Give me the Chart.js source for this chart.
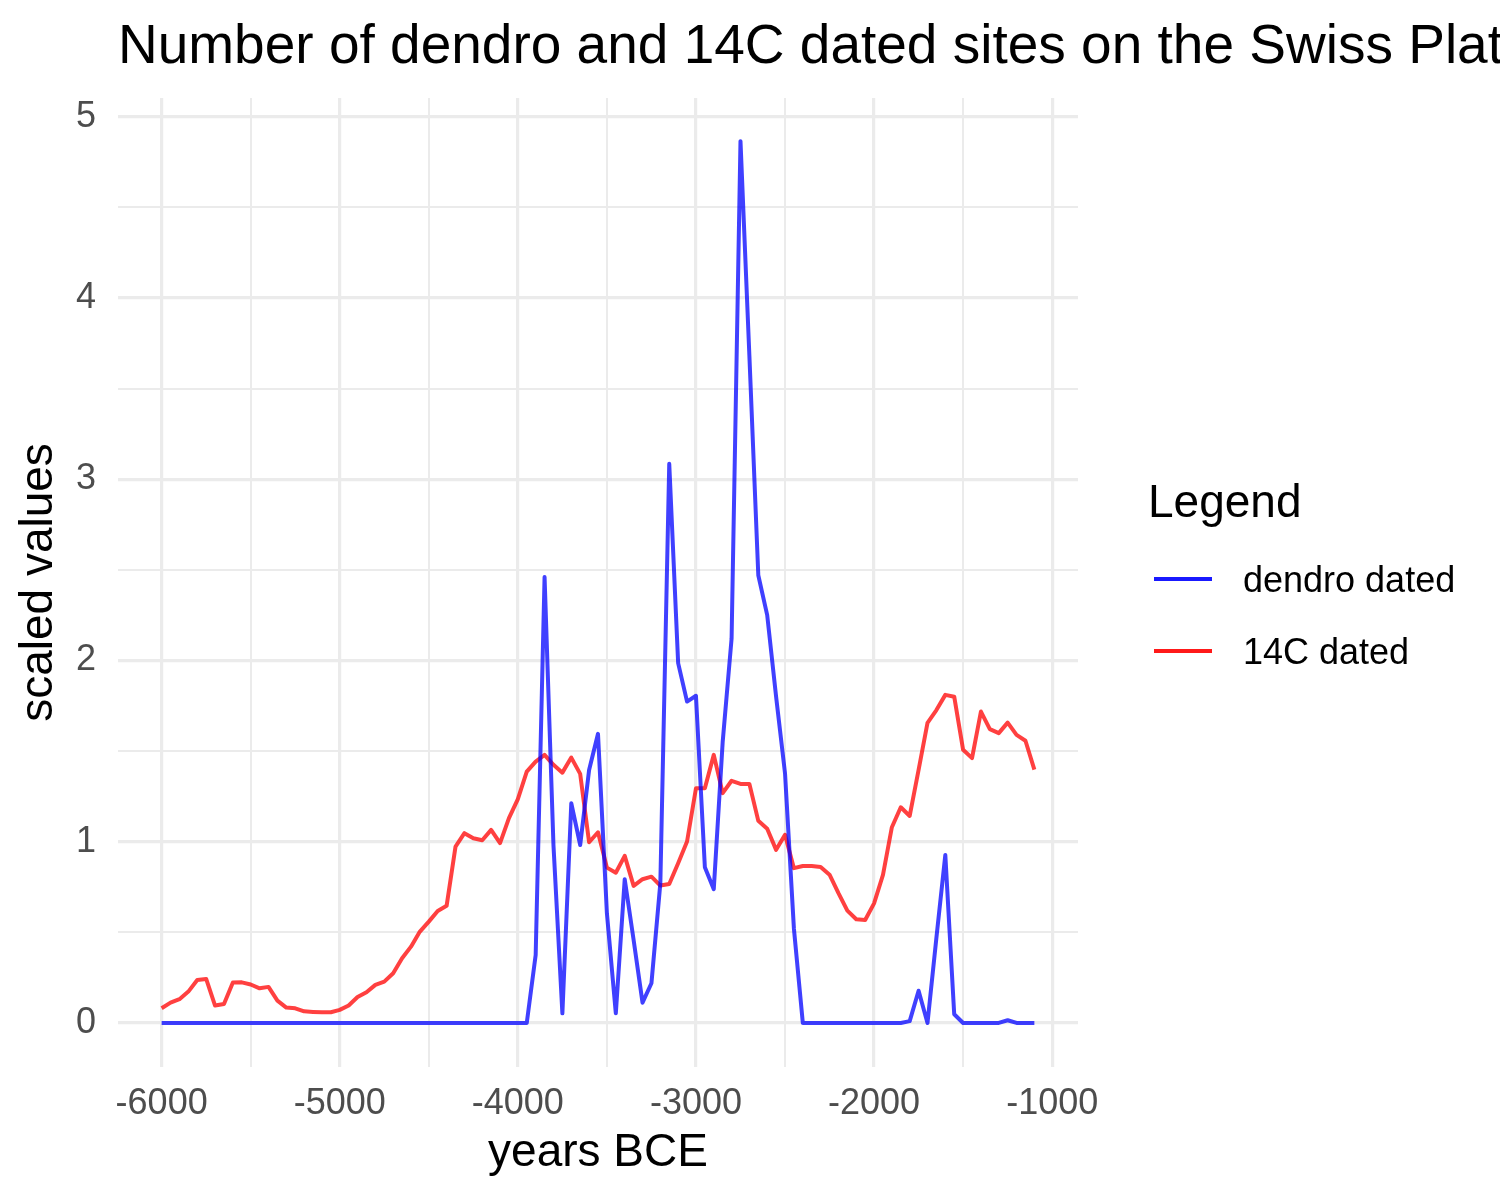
<!DOCTYPE html>
<html><head><meta charset="utf-8">
<script src="https://cdn.jsdelivr.net/npm/chart.js@4.4.1/dist/chart.umd.min.js"></script>
<style>html,body{margin:0;padding:0;background:#fff}canvas{display:block}</style>
</head><body>
<canvas id="c" width="1500" height="1200"></canvas>
<script>
const years = [-6000,-5950,-5900,-5850,-5800,-5750,-5700,-5650,-5600,-5550,
  -5500,-5450,-5400,-5350,-5300,-5250,-5200,-5150,-5100,-5050,
  -5000,-4950,-4900,-4850,-4800,-4750,-4700,-4650,-4600,-4550,
  -4500,-4450,-4400,-4350,-4300,-4250,-4200,-4150,-4100,-4050,
  -4000,-3950,-3900,-3850,-3800,-3750,-3700,-3650,-3600,-3550,
  -3500,-3450,-3400,-3350,-3300,-3250,-3200,-3150,-3100,-3050,
  -3000,-2950,-2900,-2850,-2800,-2750,-2700,-2650,-2600,-2550,
  -2500,-2450,-2400,-2350,-2300,-2250,-2200,-2150,-2100,-2050,
  -2000,-1950,-1900,-1850,-1800,-1750,-1700,-1650,-1600,-1550,
  -1500,-1450,-1400,-1350,-1300,-1250,-1200,-1150,-1100];

const dendroDated = [0,0,0,0,0,0,0,0,0,0,
  0,0,0,0,0,0,0,0,0,0,
  0,0,0,0,0,0,0,0,0,0,
  0,0,0,0,0,0,0,0,0,0,
  0,0,0.375,2.46,0.98,0.053,1.212,0.982,1.396,1.595,
  0.605,0.053,0.793,0.458,0.112,0.219,0.771,3.085,1.985,1.773,
  1.805,0.859,0.738,1.55,2.12,4.865,3.68,2.47,2.25,1.80,
  1.378,0.52,0,0,0,0,0,0,0,0,
  0,0,0,0,0.01,0.178,0,0.47,0.927,0.048,
  0,0,0,0,0,0.015,0,0,0];

const c14Dated = [0.081,0.112,0.131,0.173,0.237,0.243,0.096,0.105,0.223,0.224,
  0.212,0.191,0.199,0.123,0.085,0.081,0.064,0.061,0.059,0.059,
  0.072,0.096,0.143,0.169,0.21,0.228,0.274,0.357,0.421,0.504,
  0.559,0.618,0.646,0.973,1.047,1.019,1.008,1.065,0.992,1.13,
  1.235,1.387,1.442,1.479,1.424,1.381,1.464,1.374,0.997,1.052,
  0.857,0.829,0.922,0.756,0.793,0.807,0.758,0.767,0.881,1.001,
  1.295,1.295,1.479,1.268,1.336,1.319,1.319,1.115,1.071,0.955,
  1.038,0.854,0.866,0.866,0.861,0.818,0.716,0.62,0.572,0.568,
  0.66,0.817,1.08,1.19,1.142,1.396,1.656,1.726,1.81,1.80,
  1.507,1.461,1.718,1.621,1.599,1.657,1.589,1.557,1.398];

const seriesNames = ['dendro dated', '14C dated'];
const xTickValues = [-6000,-5000,-4000,-3000,-2000,-1000];
const xMinorValues = [-5500,-4500,-3500,-2500,-1500];
const yTickValues = [0,1,2,3,4,5];
const yMinorValues = [0.5,1.5,2.5,3.5,4.5];
const chartTitle = 'Number of dendro and 14C dated sites on the Swiss Plateau';
const xTitle = 'years BCE';
const yTitle = 'scaled values';
const legendTitle = 'Legend';

const FONT = "'Liberation Sans', Arial, Helvetica, sans-serif";
const lineColors = ['rgba(0,0,255,0.75)', 'rgba(255,0,0,0.75)'];
const keyColors = ['rgba(0,0,255,0.9)', 'rgba(255,0,0,0.9)'];
const GRID = '#EBEBEB';

const toPoints = arr => years.map((yr, i) => ({x: yr, y: arr[i]}));

const titleLegendPlugin = {
  id: 'titleLegend',
  afterDraw(chart) {
    const ctx = chart.ctx;
    ctx.save();
    ctx.textAlign = 'left';
    ctx.textBaseline = 'alphabetic';
    ctx.fillStyle = '#000';
    ctx.font = `55px ${FONT}`;
    ctx.fillText(chartTitle, 118, 63);
    ctx.font = `46px ${FONT}`;
    ctx.fillText(legendTitle, 1148, 517);
    ctx.font = `36px ${FONT}`;
    const rows = [579, 651];
    seriesNames.forEach((name, i) => {
      ctx.strokeStyle = keyColors[i];
      ctx.lineWidth = 4;
      ctx.beginPath();
      ctx.moveTo(1154, rows[i]);
      ctx.lineTo(1212, rows[i]);
      ctx.stroke();
      ctx.fillStyle = '#000';
      ctx.fillText(name, 1243, rows[i] + 13);
    });
    ctx.restore();
  }
};

new Chart(document.getElementById('c'), {
  type: 'line',
  data: {
    datasets: [
      {label: seriesNames[0], data: toPoints(dendroDated), borderColor: lineColors[0],
       borderWidth: 4, pointRadius: 0, tension: 0, borderJoinStyle: 'round', fill: false},
      {label: seriesNames[1], data: toPoints(c14Dated), borderColor: lineColors[1],
       borderWidth: 4, pointRadius: 0, tension: 0, borderJoinStyle: 'round', fill: false}
    ]
  },
  options: {
    responsive: false,
    animation: false,
    devicePixelRatio: 1,
    layout: {padding: {top: 98, right: 422, bottom: 0, left: 0}},
    plugins: {legend: {display: false}, title: {display: false}, tooltip: {enabled: false}},
    scales: {
      x: {
        type: 'linear', min: -6245, max: -855,
        afterBuildTicks: s => { s.ticks = xTickValues.concat(xMinorValues).sort((a,b)=>a-b).map(v => ({value: v})); },
        afterFit: s => { s.height = 133; },
        border: {display: false},
        grid: {color: GRID, drawTicks: false,
               lineWidth: c => (c.tick && xTickValues.includes(c.tick.value)) ? 3.2 : 2},
        ticks: {autoSkip: false, maxRotation: 0, padding: 15, color: '#4D4D4D',
                font: {family: FONT, size: 36},
                callback: v => xTickValues.includes(v) ? String(v) : ''},
        title: {display: true, text: xTitle, color: '#000', font: {family: FONT, size: 46},
                padding: {top: 0, bottom: 19}}
      },
      y: {
        type: 'linear', min: -0.243, max: 5.103,
        afterBuildTicks: s => { s.ticks = yTickValues.concat(yMinorValues).sort((a,b)=>a-b).map(v => ({value: v})); },
        afterFit: s => { s.width = 118; },
        border: {display: false},
        grid: {color: GRID, drawTicks: false,
               lineWidth: c => (c.tick && yTickValues.includes(c.tick.value)) ? 3.2 : 2},
        ticks: {autoSkip: false, padding: 22, color: '#4D4D4D',
                font: {family: FONT, size: 36},
                callback: v => yTickValues.includes(v) ? String(v) : ''},
        title: {display: true, text: yTitle, color: '#000', font: {family: FONT, size: 46},
                padding: {top: 12, bottom: 0}}
      }
    }
  },
  plugins: [titleLegendPlugin]
});
</script>
</body></html>
